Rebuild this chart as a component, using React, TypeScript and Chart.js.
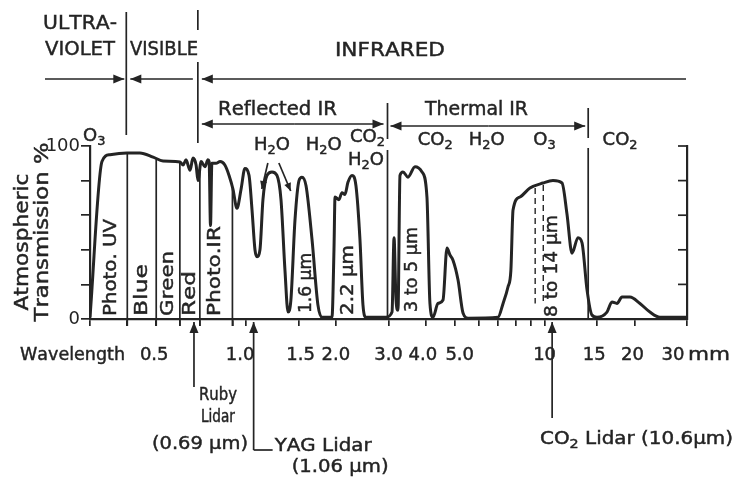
import React, { useEffect, useRef } from 'react';
import { Chart, registerables } from 'chart.js';

Chart.register(...registerables);

// ---- data ----
const WAVELENGTH_UM = [0.300,0.329,0.350,0.399,0.441,0.488,0.527,0.601,0.615,0.629,0.649,0.664,0.680,0.690,0.707,0.728,0.745,0.752,0.760,0.768,0.793,0.818,0.849,0.877,0.904,0.932,0.962,0.991,1.023,1.047,1.071,1.088,1.113,1.139,1.175,1.221,1.269,1.309,1.350,1.382,1.413,1.458,1.504,1.539,1.588,1.663,1.741,1.795,1.940,1.970,1.986,2.047,2.095,2.144,2.194,2.264,2.334,2.407,2.464,2.522,2.943,3.083,3.131,3.179,3.228,3.278,3.355,3.486,3.680,3.885,4.036,4.130,4.227,4.395,4.568,4.710,4.820,4.934,5.130,5.330,5.540,6.980,7.260,7.540,7.710,7.840,8.270,8.930,9.880,10.67,11.44,11.88,12.36,12.94,13.35,13.87,14.41,14.98,16.18,16.82,17.48,18.17,19.32,20.87,22.54,24.36,30.0];
const TRANSMISSION_PCT = [1,91,95,96,96,93.6,91.3,90.8,89,92,86,93,89,80,91,88,92,91,54,90,90,91,89,83,75,64,75,87,83,63,40,36,40,69,83,85,83,69,28,4,11,57,80,82,77,46,8,1,1,40,70.5,69,73,72,79,83,77,46,8,1,1,4,47,11,5,83,85,82,88,85,70.5,9,1,9,11,41,37,34,22.5,3.5,0.5,1,9,18.5,28,63,70.5,75.7,78.6,80,78.6,61,38,47,44,17,2.3,1,4,9.8,9,12.7,12.7,9,4,1,1];

const X_MIN = 0.3;
const X_MAX = 30;
const X_TICKS = [0.3,0.4,0.5,0.6,0.7,0.9,1,1.5,2,3,4,5,6,7,8,9,10,15,20,30];
const X_TICK_LABELS = ['0.5','1.0','1.5','2.0','3.0','4.0','5.0','10','15','20','30'];
const X_TICK_LABEL_VALUES = [0.5,1,1.5,2,3,4,5,10,15,20,30];
const X_UNIT = 'mm';
const Y_TICKS = [0,20,40,60,80,100];
const Y_TICK_LABELS = ['0','','','','','100'];

const BAND_EDGES_UM = [0.3,0.4,0.5,0.6,0.7,0.9];
const BAND_LABELS = ['Photo. UV','Blue','Green','Red','Photo.IR'];
const REGION_EDGES_UM = [0.4,0.7];          // UV | visible | IR
const IR_SPLIT_UM = [0.7,3,14];             // reflected | thermal
const WINDOW_LABELS = ['1.6 μm','2.2 μm','3 to 5 μm','8 to 14 μm'];
const WINDOW_LABEL_UM = [1.6,2.2,3.6,10.6];
const GAS_LABELS = ['O_3','H_2O','H_2O','CO_2','H_2O','CO_2','H_2O','O_3','CO_2'];
const GAS_LABEL_UM = [0.31,1.22,1.82,2.55,2.52,4.3,6.4,10.0,17.9];
const WATER_ARROW_UM = [1.12,1.4];
const OZONE_DASH_UM = [9.3,9.9];
const LIDAR_UM = [0.69,1.06,10.6];

// ---- styling ----
const INK = '#242424';
const FONT = '"DejaVu Sans", sans-serif';

function curveAt(l: number) {
  const lg = Math.log(l);
  for (let i = 0; i < WAVELENGTH_UM.length - 1; i++) {
    const a = Math.log(WAVELENGTH_UM[i]), b = Math.log(WAVELENGTH_UM[i + 1]);
    if (lg >= a && lg <= b) {
      const t = (lg - a) / (b - a);
      return TRANSMISSION_PCT[i] + t * (TRANSMISSION_PCT[i + 1] - TRANSMISSION_PCT[i]);
    }
  }
  return 0;
}

function setFont(ctx: CanvasRenderingContext2D, size: number) {
  ctx.font = `${size}px ${FONT}`;
}

function rich(ctx: CanvasRenderingContext2D, s: string, x: number, y: number, size: number, align = 'center', width?: number) {
  const segs: [string, boolean][] = [];
  for (let i = 0; i < s.length; i++) {
    if (s[i] === '_' && i + 1 < s.length) { segs.push([s[i + 1], true]); i++; }
    else segs.push([s[i], false]);
  }
  const sub = size * 0.72;
  ctx.save();
  ctx.fillStyle = INK;
  ctx.strokeStyle = INK;
  ctx.lineWidth = 0.45;
  ctx.setLineDash([]);
  ctx.textBaseline = 'middle';
  ctx.textAlign = 'left';
  const ws = segs.map(([c, b]) => { setFont(ctx, b ? sub : size); return ctx.measureText(c).width; });
  const total = ws.reduce((a, b) => a + b, 0);
  const sx = width ? width / total : 1;
  let cx = align === 'center' ? x - (total * sx) / 2 : align === 'right' ? x - total * sx : x;
  segs.forEach(([c, b], i) => {
    setFont(ctx, b ? sub : size);
    ctx.save();
    ctx.translate(cx, y + (b ? size * 0.34 : 0));
    ctx.scale(sx, 1);
    ctx.fillText(c, 0, 0);
    ctx.strokeText(c, 0, 0);
    ctx.restore();
    cx += ws[i] * sx;
  });
  ctx.restore();
}

function vrich(ctx: CanvasRenderingContext2D, s: string, x: number, y: number, size: number, align = 'left', width?: number) {
  ctx.save();
  ctx.translate(x, y);
  ctx.rotate(-Math.PI / 2);
  rich(ctx, s, 0, 0, size, align, width);
  ctx.restore();
}

function seg(ctx: CanvasRenderingContext2D, x1: number, y1: number, x2: number, y2: number) {
  ctx.beginPath();
  ctx.moveTo(x1, y1);
  ctx.lineTo(x2, y2);
  ctx.stroke();
}

function head(ctx: CanvasRenderingContext2D, x1: number, y1: number, x2: number, y2: number, len = 11, hw = 4.5) {
  const a = Math.atan2(y2 - y1, x2 - x1);
  const bx = x2 - len * Math.cos(a), by = y2 - len * Math.sin(a);
  ctx.beginPath();
  ctx.moveTo(x2, y2);
  ctx.lineTo(bx + hw * Math.sin(a), by - hw * Math.cos(a));
  ctx.lineTo(bx - hw * Math.sin(a), by + hw * Math.cos(a));
  ctx.closePath();
  ctx.fill();
}

function arrow(ctx: CanvasRenderingContext2D, x1: number, y1: number, x2: number, y2: number, len = 11, hw = 4.5) {
  seg(ctx, x1, y1, x2, y2);
  head(ctx, x1, y1, x2, y2, len, hw);
}

const annotations = {
  id: 'annotations',
  afterDraw(chart: any) {
    const ctx: CanvasRenderingContext2D = chart.ctx;
    const ca = chart.chartArea;
    const xs = chart.scales.x, ys = chart.scales.y;
    const X = (v: number) => xs.getPixelForValue(v);
    const Y = (v: number) => ys.getPixelForValue(v);
    ctx.save();
    ctx.strokeStyle = INK;
    ctx.fillStyle = INK;
    ctx.lineWidth = 1.7;

    // right axis inward ticks
    Y_TICKS.forEach((t) => seg(ctx, ca.right - 9, Y(t), ca.right, Y(t)));

    // band dividers (curve down to below axis)
    BAND_EDGES_UM.slice(1).forEach((l) => seg(ctx, X(l), Y(curveAt(l)) + 1, X(l), ca.bottom + 7));

    // region boundaries above the plot
    const xUV = X(REGION_EDGES_UM[0]);
    const xIR = X(REGION_EDGES_UM[1]);
    const x3 = X(IR_SPLIT_UM[1]);
    const x14 = X(IR_SPLIT_UM[2]);
    seg(ctx, xUV - 1, 12, xUV - 1, 135);
    seg(ctx, xIR - 2, 10, xIR - 2, 30);
    seg(ctx, xIR - 2, 62, xIR - 2, 143);
    seg(ctx, x3 - 1, 103, x3 - 1, 139);
    seg(ctx, x3 - 1, 150, x3 - 1, ca.bottom);
    seg(ctx, x14, 108, x14, 138);
    seg(ctx, x14, 148, x14, ca.bottom);

    // spectral region arrows
    arrow(ctx, 45, 79, xUV - 3, 79);
    arrow(ctx, xIR - 7, 79, xUV + 3, 79);
    arrow(ctx, ca.right - 1, 79, xIR + 2, 79);
    arrow(ctx, (xIR + x3) / 2, 124, xIR + 2, 124);
    arrow(ctx, (xIR + x3) / 2, 124, x3 - 5, 124);
    arrow(ctx, (x3 + x14) / 2, 126, x3 + 2, 126);
    arrow(ctx, (x3 + x14) / 2, 126, x14 - 3, 126);

    rich(ctx, 'ULTRA-', 43, 24, 20, 'left', 74);
    rich(ctx, 'VIOLET', 45, 50, 20, 'left', 70);
    rich(ctx, 'VISIBLE', 130, 50, 20, 'left', 68);
    rich(ctx, 'INFRARED', 390, 51, 20, 'center', 110);
    rich(ctx, 'Reflected IR', 218, 110, 19, 'left', 119);
    rich(ctx, 'Thermal IR', 425, 110, 19, 'left', 103);

    // absorbing gases
    const gasY = [136, 145, 145, 137, 160, 140, 140, 140, 140];
    GAS_LABELS.forEach((g, i) => rich(ctx, g, X(GAS_LABEL_UM[i]), gasY[i], 18, 'center'));
    const xw = X(GAS_LABEL_UM[1]);
    arrow(ctx, xw - 4, 163, X(WATER_ARROW_UM[0]) + 1, 189, 8, 3.5);
    arrow(ctx, xw + 7, 163, X(WATER_ARROW_UM[1]) + 1, 191, 8, 3.5);

    // band labels
    const bandNudge = [3, 1, 0, 0, -1];
    const bandLen = [97, 52, 65, 45, 90];
    BAND_LABELS.forEach((b, i) => {
      const cx = (X(BAND_EDGES_UM[i]) + X(BAND_EDGES_UM[i + 1])) / 2 + bandNudge[i];
      vrich(ctx, b, cx, ca.bottom - 3, 18, 'left', bandLen[i]);
    });
    const winBottom = [313, 315, 312, 317];
    const winLen = [60, 70, 85, 102];
    WINDOW_LABELS.forEach((w, i) => vrich(ctx, w, X(WINDOW_LABEL_UM[i]), winBottom[i], 17, 'left', winLen[i]));

    // ozone dashed lines
    ctx.save();
    ctx.setLineDash([6, 4]);
    ctx.lineWidth = 1.4;
    OZONE_DASH_UM.forEach((l) => seg(ctx, X(l), Y(curveAt(l)) + 2, X(l), Y(9)));
    ctx.restore();

    // y title
    vrich(ctx, 'Atmospheric', 23, 242, 19, 'center', 137);
    vrich(ctx, 'Transmission %', 43, 232, 19, 'center', 179);

    // x labels
    rich(ctx, 'Wavelength', 20, 355, 18, 'left', 105);
    const tickNudge = [-2, -6, 2, 0, 0, -3, 5, 0, -3, -2, -14];
    X_TICK_LABELS.forEach((t, i) => rich(ctx, t, X(X_TICK_LABEL_VALUES[i]) + tickNudge[i], 355, 18, 'center'));
    rich(ctx, X_UNIT, X(X_MAX) + 1, 355, 18, 'left', 42);

    // lidars
    const xr = X(LIDAR_UM[0]);
    arrow(ctx, xr - 4, 387, xr - 4, ca.bottom + 3);
    rich(ctx, 'Ruby', xr + 20, 396, 17, 'center', 38);
    rich(ctx, 'Lidar', xr + 20, 418, 17, 'center', 34);
    rich(ctx, '(0.69 μm)', xr + 2, 444, 18, 'center', 96);
    const xy = X(LIDAR_UM[1]);
    arrow(ctx, xy, 450, xy, ca.bottom + 3);
    seg(ctx, xy, 450, xy + 19, 450);
    rich(ctx, 'YAG Lidar', xy + 21, 446, 18, 'left', 97);
    rich(ctx, '(1.06 μm)', xy + 38, 467, 18, 'left', 97);
    const xc = X(LIDAR_UM[2]);
    arrow(ctx, xc, 418, xc, ca.bottom + 3);
    rich(ctx, 'CO_2 Lidar (10.6μm)', 540, 439, 18, 'left', 193);

    ctx.restore();
  },
};

export default function App() {
  const ref = useRef<HTMLCanvasElement>(null);
  useEffect(() => {
    const data = WAVELENGTH_UM.map((x, i) => ({ x, y: TRANSMISSION_PCT[i] }));
    const chart = new Chart(ref.current as HTMLCanvasElement, {
      type: 'line',
      data: {
        datasets: [
          {
            data,
            borderColor: INK,
            borderWidth: 3,
            pointRadius: 0,
            cubicInterpolationMode: 'monotone',
            fill: false,
          },
        ],
      },
      options: {
        animation: false,
        responsive: false,
        devicePixelRatio: 1,
        layout: { padding: { top: 146, left: 0, right: 0, bottom: 0 } },
        plugins: { legend: { display: false }, tooltip: { enabled: false } },
        scales: {
          x: {
            type: 'logarithmic',
            min: X_MIN,
            max: X_MAX,
            afterBuildTicks: (s: any) => { s.ticks = X_TICKS.map((v) => ({ value: v })); },
            afterFit: (s: any) => { s.height = 162; },
            grid: { drawOnChartArea: false, drawTicks: true, tickLength: 7, color: INK, lineWidth: 1.7 },
            border: { display: true, color: INK, width: 2.2 },
            ticks: { display: false },
          },
          y: {
            position: 'left',
            min: 0,
            max: 100,
            afterBuildTicks: (s: any) => { s.ticks = Y_TICKS.map((v) => ({ value: v })); },
            afterFit: (s: any) => { s.width = 90; },
            grid: { drawOnChartArea: false, drawTicks: true, tickLength: 9, color: INK, lineWidth: 1.7 },
            border: { display: true, color: INK, width: 2.2 },
            ticks: {
              padding: 1,
              color: INK,
              font: { family: FONT, size: 18 },
              callback: (v: any) => { const i = Y_TICKS.indexOf(Number(v)); return i >= 0 ? Y_TICK_LABELS[i] : ''; },
            },
          },
          y2: {
            position: 'right',
            min: 0,
            max: 100,
            afterFit: (s: any) => { s.width = 52; },
            grid: { drawOnChartArea: false, drawTicks: false },
            border: { display: true, color: INK, width: 2.2 },
            ticks: { display: false },
          },
        },
      } as any,
      plugins: [annotations],
    });
    return () => chart.destroy();
  }, []);
  return (
    <div style={{ position: 'absolute', left: 0, top: 0, width: 739, height: 481, background: '#fff' }}>
      <canvas ref={ref} width={739} height={481} style={{ display: 'block', width: 739, height: 481 }} />
    </div>
  );
}
